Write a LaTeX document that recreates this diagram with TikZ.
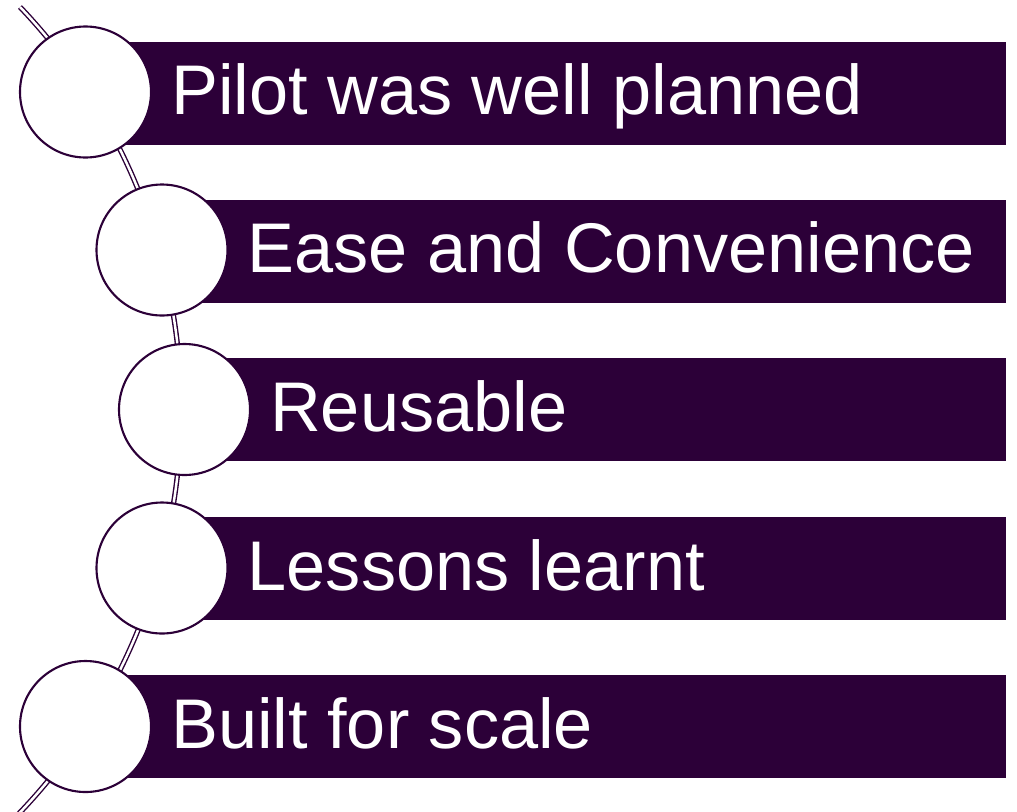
\documentclass[tikz,border=0pt]{standalone}
\usepackage{fontspec}
\usetikzlibrary{positioning, calc}
\newfontfamily\barfont{Liberation Sans}
\definecolor{plum}{HTML}{2C0038}

\begin{document}
\begin{tikzpicture}[
    bar/.style={fill=plum, draw=none, minimum height=1.03cm, inner sep=0pt, anchor=west},
    dot/.style={circle, draw=plum, fill=white, line width=0.6pt, minimum size=1.31cm, inner sep=0pt},
    lbl/.style={text=white, font=\barfont\fontsize{20}{24}\selectfont, inner sep=0pt, anchor=base west}
  ]
  \useasboundingbox (0,0) rectangle (10.17,-8.11);
  % Spine behind the circles
  \draw[plum, line width=0.4pt, double=white, double distance=0.7pt] (0.20,-0.07) arc[start angle=43.6, end angle=-44.5, radius=5.84];
  % Bars
  \node[bar, minimum width=9.20cm] (bar1) at (0.85,-0.935) {};
  \node[bar, minimum width=8.43cm] (bar2) at (1.62,-2.510) {};
  \node[bar, minimum width=8.20cm] (bar3) at (1.85,-4.095) {};
  \node[bar, minimum width=8.43cm] (bar4) at (1.62,-5.680) {};
  \node[bar, minimum width=9.20cm] (bar5) at (0.85,-7.265) {};
  % Circles
  \node[dot] (c1) at (0.855,-0.92) {};
  \node[dot] (c2) at (1.62,-2.50) {};
  \node[dot] (c3) at (1.845,-4.095) {};
  \node[dot] (c4) at (1.62,-5.68) {};
  \node[dot] (c5) at (0.855,-7.265) {};
  % Labels
  \node[lbl] (t1) at ($(c1.center)+(0.85,-0.22)$) {Pilot was well planned};
  \node[lbl] (t2) at ($(c2.center)+(0.85,-0.22)$) {Ease and Convenience};
  \node[lbl] (t3) at ($(c3.center)+(0.85,-0.22)$) {Reusable};
  \node[lbl] (t4) at ($(c4.center)+(0.85,-0.22)$) {Lessons learnt};
  \node[lbl] (t5) at ($(c5.center)+(0.85,-0.22)$) {Built for scale};
\end{tikzpicture}
\end{document}
